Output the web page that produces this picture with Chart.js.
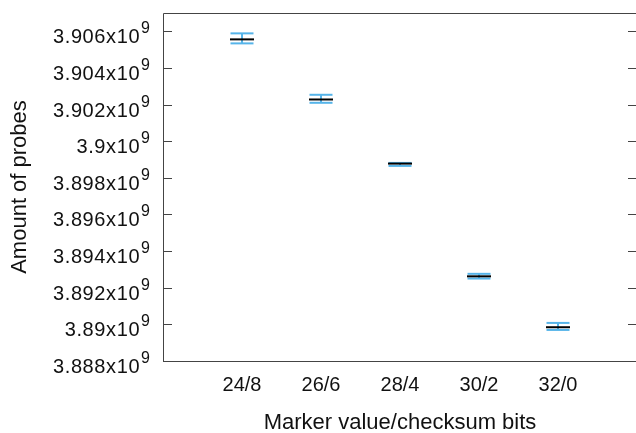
<!DOCTYPE html>
<html>
<head>
<meta charset="utf-8">
<script src="https://cdn.jsdelivr.net/npm/chart.js@4.4.1/dist/chart.umd.min.js"></script>
<style>
  html, body { margin:0; padding:0; background:#fff; overflow:hidden; }
  #wrap { width:640px; height:433px; }
</style>
</head>
<body>
<div id="wrap"><canvas id="c" width="640" height="433"></canvas></div>
<script>
/* data */
const xCats   = ['24/8', '26/6', '28/4', '30/2', '32/0'];
const xPos    = [24, 26, 28, 30, 32];
const meanVals = [3.905560e9, 3.902278e9, 3.898777e9, 3.892623e9, 3.889844e9];
const hiVals   = [3.905888e9, 3.902535e9, 3.898815e9, 3.892759e9, 3.890079e9];
const loVals   = [3.905341e9, 3.902097e9, 3.898651e9, 3.892502e9, 3.889696e9];
const yTickVals   = [3.888e9, 3.890e9, 3.892e9, 3.894e9, 3.896e9, 3.898e9, 3.900e9, 3.902e9, 3.904e9, 3.906e9];
const yTickLabels = ['3.888', '3.89', '3.892', '3.894', '3.896', '3.898', '3.9', '3.902', '3.904', '3.906'];
const yTitle = 'Amount of probes';
const xTitle = 'Marker value/checksum bits';

const BLUE = '#56b4e9';
const FONT = '"Liberation Sans", Arial, sans-serif';

const pts = arr => arr.map((v,i)=>({ x: xPos[i], y: v }));
const stem = [];
xPos.forEach((x,i)=>{ stem.push({x, y: loVals[i]}, {x, y: hiVals[i]}, {x, y: null}); });

// frame, ticks and all text (y labels need a superscript)
const decor = {
  id: 'decor',
  afterDraw(chart){
    const ctx = chart.ctx, a = chart.chartArea;
    const xs = chart.scales.x, ys = chart.scales.y;
    ctx.save();
    ctx.strokeStyle = '#444';
    ctx.lineWidth = 1;
    ctx.beginPath();
    ctx.rect(Math.round(a.left)+0.5, Math.round(a.top)+0.5, Math.round(a.right-a.left), Math.round(a.bottom-a.top));
    ctx.stroke();
    ctx.fillStyle = '#111';
    yTickVals.forEach((v,i)=>{
      const py = Math.round(ys.getPixelForValue(v)) + 0.5;
      ctx.beginPath();
      ctx.moveTo(a.left, py); ctx.lineTo(a.left + 9, py);
      ctx.moveTo(a.right - 9, py); ctx.lineTo(a.right, py);
      ctx.stroke();
      // label: "<n>x10" + superscript 9
      ctx.textAlign = 'right';
      ctx.textBaseline = 'alphabetic';
      ctx.font = '16px ' + FONT;
      const rx = a.left - 13;
      ctx.fillText('9', rx, py + 1.5);
      const sw = ctx.measureText('9').width;
      ctx.font = '20px ' + FONT;
      ctx.letterSpacing = '0.6px';
      ctx.fillText(yTickLabels[i] + 'x10', rx - sw - 1, py + 11.5);
      ctx.letterSpacing = '0px';
    });
    ctx.textAlign = 'center';
    ctx.font = '20px ' + FONT;
    xCats.forEach((c,i)=>{
      ctx.fillText(c, xs.getPixelForValue(xPos[i]), a.bottom + 30);
    });
    ctx.font = '22px ' + FONT;
    ctx.fillText(xTitle, (a.left + a.right)/2, 429);
    ctx.translate(26, (a.top + a.bottom)/2);
    ctx.rotate(-Math.PI/2);
    ctx.fillText(yTitle, 0, 0);
    ctx.restore();
  }
};

new Chart(document.getElementById('c'), {
  type: 'scatter',
  data: {
    datasets: [
      { label:'mean', data: pts(meanVals), borderColor:'#000', backgroundColor:'#000', borderWidth:2,
        pointStyle:'line', pointRadius:12, pointHoverRadius:12 },
      { label:'high', data: pts(hiVals), borderColor:BLUE, backgroundColor:BLUE, borderWidth:2,
        pointStyle:'line', pointRadius:11.5, pointHoverRadius:11.5 },
      { label:'low', data: pts(loVals), borderColor:BLUE, backgroundColor:BLUE, borderWidth:2,
        pointStyle:'line', pointRadius:11.5, pointHoverRadius:11.5 },
      { label:'range', data: stem, showLine:true, spanGaps:false, borderColor:BLUE, borderWidth:2,
        pointRadius:0, pointHoverRadius:0 }
    ]
  },
  options: {
    responsive:false,
    animation:false,
    layout:{ autoPadding:false, padding:{ left:163, top:13, right:3, bottom:72 } },
    plugins:{ legend:{ display:false }, tooltip:{ enabled:false } },
    scales:{
      x:{ type:'linear', min:22, max:34,
          grid:{ display:false, drawTicks:false }, border:{ display:false },
          ticks:{ display:false } },
      y:{ type:'linear', min:3.888e9, max:3.907e9,
          grid:{ display:false, drawTicks:false }, border:{ display:false },
          ticks:{ display:false } }
    }
  },
  plugins:[decor]
});
</script>
</body>
</html>
